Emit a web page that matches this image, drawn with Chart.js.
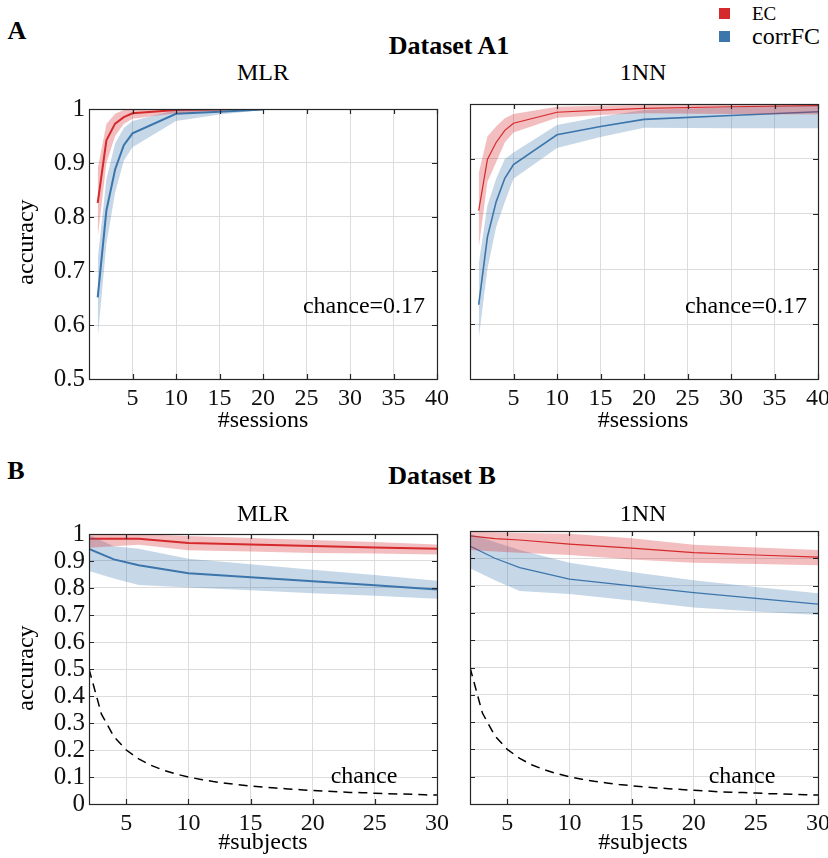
<!DOCTYPE html>
<html><head><meta charset="utf-8">
<script src="https://cdn.jsdelivr.net/npm/chart.js@4.4.1/dist/chart.umd.min.js"></script>
<style>
html,body{margin:0;padding:0;background:#fff;width:828px;height:858px;overflow:hidden;position:relative;font-family:'Liberation Serif','Times New Roman',serif;color:#000}
canvas{position:absolute}
.t{position:absolute;transform:translate(-50%,-50%);white-space:nowrap;font-size:24px;line-height:1}
.b{font-weight:bold;font-size:26px}
.sq{position:absolute;width:11px;height:11px}
</style></head><body>
<script>
// ---------- Data: Dataset A1 (x = #sessions) ----------
const sessMLR   = [1, 2, 3, 4, 5, 10, 15, 20];
const ecMLR     = [0.826, 0.942, 0.973, 0.985, 0.992, 0.998, 0.999, 1.000];
const ecMLRlo   = [0.762, 0.900, 0.950, 0.972, 0.982, 0.992, 0.997, 1.000];
const ecMLRhi   = [0.890, 0.972, 0.991, 0.998, 1.000, 1.000, 1.000, 1.000];
const fcMLR     = [0.651, 0.812, 0.888, 0.933, 0.955, 0.991, 0.995, 0.999];
const fcMLRlo   = [0.576, 0.750, 0.845, 0.904, 0.929, 0.978, 0.990, 0.998];
const fcMLRhi   = [0.722, 0.870, 0.936, 0.965, 0.978, 0.998, 1.000, 1.000];

const sess1NN   = [1, 2, 3, 4, 5, 10, 15, 20, 30, 40];
const ec1NN     = [0.806, 0.899, 0.930, 0.952, 0.965, 0.985, 0.989, 0.992, 0.995, 0.997];
const ec1NNlo   = [0.738, 0.858, 0.894, 0.930, 0.948, 0.975, 0.980, 0.983, 0.982, 0.981];
const ec1NNhi   = [0.874, 0.941, 0.959, 0.974, 0.982, 0.995, 0.997, 0.998, 0.999, 1.000];
const fc1NN     = [0.635, 0.758, 0.822, 0.865, 0.890, 0.944, 0.959, 0.972, 0.979, 0.986];
const fc1NNlo   = [0.573, 0.700, 0.776, 0.822, 0.864, 0.920, 0.940, 0.957, 0.956, 0.956];
const fc1NNhi   = [0.709, 0.815, 0.864, 0.900, 0.912, 0.962, 0.977, 0.989, 0.994, 0.997];

// ---------- Data: Dataset B (x = #subjects) ----------
const subj      = [2, 4, 6, 10, 15, 20, 25, 30];
const ecBMLR    = [0.982, 0.982, 0.982, 0.967, 0.961, 0.956, 0.950, 0.945];
const ecBMLRlo  = [0.949, 0.955, 0.960, 0.940, 0.935, 0.930, 0.928, 0.924];
const ecBMLRhi  = [1.000, 1.000, 1.000, 0.993, 0.985, 0.978, 0.970, 0.961];
const fcBMLR    = [0.945, 0.906, 0.884, 0.855, 0.840, 0.825, 0.810, 0.794];
const fcBMLRlo  = [0.863, 0.835, 0.811, 0.802, 0.792, 0.781, 0.771, 0.760];
const fcBMLRhi  = [0.997, 0.955, 0.945, 0.908, 0.888, 0.868, 0.848, 0.827];

const ecB1NN    = [0.982, 0.972, 0.967, 0.952, 0.937, 0.921, 0.912, 0.904];
const ecB1NNlo  = [0.930, 0.925, 0.920, 0.912, 0.896, 0.884, 0.879, 0.875];
const ecB1NNhi  = [0.997, 0.995, 0.993, 0.990, 0.973, 0.950, 0.940, 0.930];
const fcB1NN    = [0.945, 0.900, 0.866, 0.824, 0.799, 0.774, 0.753, 0.732];
const fcB1NNlo  = [0.864, 0.820, 0.780, 0.769, 0.745, 0.720, 0.705, 0.692];
const fcB1NNhi  = [0.990, 0.960, 0.930, 0.884, 0.850, 0.820, 0.795, 0.772];

const chanceX   = [2,3,4,5,6,7,8,9,10,11,12,13,14,15,16,17,18,19,20,21,22,23,24,25,26,27,28,29,30];
const chanceY   = [0.500,0.333,0.250,0.200,0.167,0.143,0.125,0.111,0.100,0.091,0.083,0.077,0.071,0.067,0.063,0.059,0.056,0.053,0.050,0.048,0.045,0.043,0.042,0.040,0.038,0.037,0.036,0.034,0.033];

// ---------- Tick labels ----------
const sessTicks = [5, 10, 15, 20, 25, 30, 35, 40];
const subjTicks = [5, 10, 15, 20, 25, 30];
const accTicksA = [0.5, 0.6, 0.7, 0.8, 0.9, 1];
const accTicksB = [0, 0.1, 0.2, 0.3, 0.4, 0.5, 0.6, 0.7, 0.8, 0.9, 1];

const RED = '#d42a2c', BLUE = '#3c76ab';
const RED_BAND = 'rgba(214,40,44,0.30)', BLUE_BAND = 'rgba(60,118,171,0.29)';
const FONT = "'Liberation Serif','Times New Roman',serif";

function pts(xs, ys){ return xs.map((x,i)=>({x:x, y:ys[i]})); }

const boxPlugin = {
  id:'box',
  afterDatasetsDraw(chart){
    const c = chart.ctx, a = chart.chartArea;
    c.save();
    c.strokeStyle = '#262626'; c.lineWidth = 1.2;
    const L = 5;
    c.beginPath();
    chart.scales.x.ticks.forEach(t=>{
      const px = Math.round(chart.scales.x.getPixelForValue(t.value))+0.5;
      c.moveTo(px, a.bottom); c.lineTo(px, a.bottom-L);
      c.moveTo(px, a.top); c.lineTo(px, a.top+L);
    });
    chart.scales.y.ticks.forEach(t=>{
      const py = Math.round(chart.scales.y.getPixelForValue(t.value))+0.5;
      c.moveTo(a.left, py); c.lineTo(a.left+L, py);
      c.moveTo(a.right, py); c.lineTo(a.right-L, py);
    });
    c.stroke();
    c.strokeRect(Math.round(a.left)+0.5, Math.round(a.top)+0.5, Math.round(a.right-a.left), Math.round(a.bottom-a.top));
    c.restore();
  }
};

function panel(o){
  const cv = document.createElement('canvas');
  cv.width = o.w; cv.height = o.h;
  cv.style.left = o.left+'px'; cv.style.top = o.top+'px';
  cv.style.width = o.w+'px'; cv.style.height = o.h+'px';
  document.body.appendChild(cv);
  const ds = [
    {data:pts(o.xs,o.ecHi), borderWidth:0, pointRadius:0, fill:'+1', backgroundColor:RED_BAND, tension:0},
    {data:pts(o.xs,o.ecLo), borderWidth:0, pointRadius:0, fill:false, tension:0},
    {data:pts(o.xs,o.fcHi), borderWidth:0, pointRadius:0, fill:'+1', backgroundColor:BLUE_BAND, tension:0},
    {data:pts(o.xs,o.fcLo), borderWidth:0, pointRadius:0, fill:false, tension:0},
    {data:pts(o.xs,o.fc), borderColor:BLUE, borderWidth:o.lwB, pointRadius:0, fill:false, tension:0},
    {data:pts(o.xs,o.ec), borderColor:RED, borderWidth:o.lwR, pointRadius:0, fill:false, tension:0}
  ];
  if (o.chance) ds.push({data:pts(chanceX, chanceY), borderColor:'#000', borderWidth:1.5, borderDash:[9,6], pointRadius:0, fill:false, tension:0});
  new Chart(cv, {
    type:'line',
    data:{datasets:ds},
    plugins:[boxPlugin],
    options:{
      responsive:false, animation:false, devicePixelRatio:1,
      layout:{padding:{top:o.padTop, right:o.padRight, left:0, bottom:0}},
      plugins:{legend:{display:false}, tooltip:{enabled:false}},
      scales:{
        x:{type:'linear', min:o.xmin, max:o.xmax,
           afterBuildTicks:s=>{s.ticks=o.xticks.map(v=>({value:v}));},
           afterFit:s=>{s.height=o.xh;},
           grid:{color:'#dcdcdc', lineWidth:1, drawTicks:false},
           border:{display:false},
           ticks:{font:{family:FONT,size:24}, color:'#111', padding:5, maxRotation:0, autoSkip:false, callback:v=>String(v)}},
        y:{type:'linear', min:o.ymin, max:o.ymax,
           afterBuildTicks:s=>{s.ticks=o.yticks.map(v=>({value:v}));},
           afterFit:s=>{s.width=o.yw;},
           grid:{color:'#dcdcdc', lineWidth:1, drawTicks:false},
           border:{display:false},
           ticks:{display:o.ylabels, font:{family:FONT,size:25}, color:'#111', padding:4, autoSkip:false, callback:v=>String(+(+v).toFixed(1))}}
      }
    }
  });
}

panel({left:0, top:90, w:460, h:320, padTop:14, padRight:23, xh:31, yw:89, ylabels:true,
  xs:sessMLR, ec:ecMLR, ecLo:ecMLRlo, ecHi:ecMLRhi, fc:fcMLR, fcLo:fcMLRlo, fcHi:fcMLRhi,
  xmin:0, xmax:40, xticks:sessTicks, ymin:0.5, ymax:1, yticks:accTicksA, lwR:2, lwB:2});
panel({left:450, top:90, w:390, h:320, padTop:14, padRight:22, xh:31, yw:20, ylabels:false,
  xs:sess1NN, ec:ec1NN, ecLo:ec1NNlo, ecHi:ec1NNhi, fc:fc1NN, fcLo:fc1NNlo, fcHi:fc1NNhi,
  xmin:0, xmax:40, xticks:sessTicks, ymin:0.5, ymax:1, yticks:accTicksA, lwR:1.2, lwB:1.6});
panel({left:0, top:515, w:460, h:320, padTop:16, padRight:23, xh:31, yw:89, ylabels:true, chance:true,
  xs:subj, ec:ecBMLR, ecLo:ecBMLRlo, ecHi:ecBMLRhi, fc:fcBMLR, fcLo:fcBMLRlo, fcHi:fcBMLRhi,
  xmin:2, xmax:30, xticks:subjTicks, ymin:0, ymax:1, yticks:accTicksB, lwR:2, lwB:2});
panel({left:450, top:515, w:390, h:320, padTop:16, padRight:22, xh:31, yw:20, ylabels:false, chance:true,
  xs:subj, ec:ecB1NN, ecLo:ecB1NNlo, ecHi:ecB1NNhi, fc:fcB1NN, fcLo:fcB1NNlo, fcHi:fcB1NNhi,
  xmin:2, xmax:30, xticks:subjTicks, ymin:0, ymax:1, yticks:accTicksB, lwR:1.2, lwB:1.2});

// ---------- Text ----------
const texts = [
  ['A', 17, 31, 'b'], ['Dataset A1', 449, 46, 'b'],
  ['MLR', 263, 72, ''], ['1NN', 643, 72, ''],
  ['#sessions', 263, 419, ''], ['#sessions', 643, 419, ''],
  ['chance=0.17', 364, 305, ''], ['chance=0.17', 746, 305, ''],
  ['B', 16, 471, 'b'], ['Dataset B', 442, 476, 'b'],
  ['MLR', 263, 513, ''], ['1NN', 643, 513, ''],
  ['#subjects', 263, 841, ''], ['#subjects', 643, 841, ''],
  ['chance', 364, 775, ''], ['chance', 742, 775, '']
];
texts.forEach(([s,x,y,c])=>{
  const d=document.createElement('div'); d.className='t '+c; d.textContent=s;
  d.style.left=x+'px'; d.style.top=y+'px'; document.body.appendChild(d);
});
[['accuracy',25,242],['accuracy',25,668]].forEach(([s,x,y])=>{
  const d=document.createElement('div'); d.className='t'; d.textContent=s;
  d.style.left=x+'px'; d.style.top=y+'px'; d.style.transform='translate(-50%,-50%) rotate(-90deg)';
  document.body.appendChild(d);
});
// legend
const leg = [['EC', RED, 13, 19], ['corrFC', BLUE, 36, 24]];
leg.forEach(([s,col,y,fs])=>{
  const q=document.createElement('div'); q.className='sq'; q.style.background=col;
  q.style.left='719px'; q.style.top=(y-5)+'px'; document.body.appendChild(q);
  const d=document.createElement('div'); d.className='t'; d.textContent=s; d.style.fontSize=fs+'px';
  d.style.transform='translate(0,-50%)'; d.style.left='752px'; d.style.top=y+'px'; document.body.appendChild(d);
});
</script>
</body></html>
